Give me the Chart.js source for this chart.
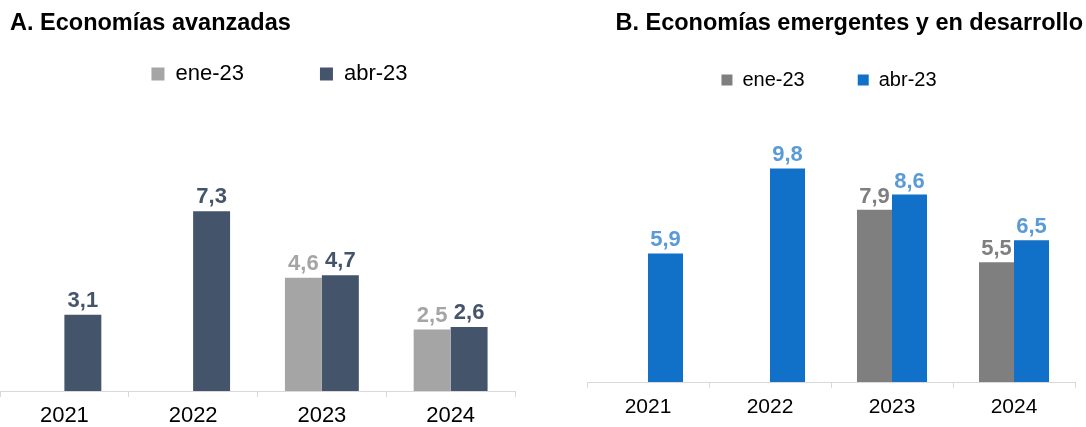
<!DOCTYPE html>
<html>
<head>
<meta charset="utf-8">
<script src="https://cdn.jsdelivr.net/npm/chart.js@4/dist/chart.umd.min.js"></script>
<style>
  html, body { margin: 0; padding: 0; background: #fff; overflow: hidden; }
  body { width: 1086px; height: 427px; position: relative; font-family: "Liberation Sans", Arial, sans-serif; }
  .title { position: absolute; font-weight: bold; font-size: 23.5px; line-height: 24px; color: #000; white-space: nowrap; z-index: 2; }
  #titleA { left: 10px; top: 10px; }
  #titleB { right: 3px; top: 10px; }
  .panel { position: absolute; top: 0; }
  #panelA { left: 0; width: 540px; height: 436px; }
  #panelB { left: 580px; width: 506px; height: 437px; }
</style>
</head>
<body>
<div class="title" id="titleA">A. Economías avanzadas</div>
<div class="title" id="titleB">B. Economías emergentes y en desarrollo</div>
<div class="panel" id="panelA"><canvas id="chartA"></canvas></div>
<div class="panel" id="panelB"><canvas id="chartB"></canvas></div>
<script>
  // Data
  const years = ["2021", "2022", "2023", "2024"];
  const seriesNames = ["ene-23", "abr-23"];
  const avanzadasEne = [null, null, 4.6, 2.5];
  const avanzadasAbr = [3.1, 7.3, 4.7, 2.6];
  const emergentesEne = [null, null, 7.9, 5.5];
  const emergentesAbr = [5.9, 9.8, 8.6, 6.5];

  const fontFamily = "'Liberation Sans', Arial, sans-serif";

  // value labels above the bars (decimal comma)
  const valueLabels = {
    id: "valueLabels",
    afterDatasetsDraw(chart) {
      const ctx = chart.ctx;
      const opts = chart.options.plugins.valueLabels;
      ctx.save();
      ctx.font = "bold " + opts.size + "px " + fontFamily;
      ctx.textAlign = "center";
      ctx.textBaseline = "bottom";
      chart.data.datasets.forEach((ds, i) => {
        const meta = chart.getDatasetMeta(i);
        meta.data.forEach((bar, j) => {
          const v = ds.data[j];
          if (v === null) return;
          ctx.fillStyle = ds.labelColor;
          ctx.fillText(v.toFixed(1).replace(".", ","), bar.x, bar.y - opts.gap);
        });
      });
      ctx.restore();
    },
  };

  // nudge the legend after layout
  const legendShift = {
    id: "legendShift",
    afterLayout(chart) {
      const o = chart.options.plugins.legendShift;
      chart.legend.left += o.dx || 0;
      chart.legend.right += o.dx || 0;
      chart.legend.top += o.dy || 0;
      chart.legend.bottom += o.dy || 0;
      chart.legend.adjustHitBoxes();
    },
  };

  function makeChart(id, ene, abr, cfg) {
    return new Chart(document.getElementById(id), {
      type: "bar",
      data: {
        labels: years,
        datasets: [
          {
            label: seriesNames[0],
            data: ene,
            backgroundColor: cfg.eneColor,
            labelColor: cfg.eneLabel,
            categoryPercentage: 0.574,
            barPercentage: 1,
          },
          {
            label: seriesNames[1],
            data: abr,
            backgroundColor: cfg.abrColor,
            labelColor: cfg.abrLabel,
            categoryPercentage: 0.574,
            barPercentage: 1,
          },
        ],
      },
      options: {
        responsive: true,
        maintainAspectRatio: false,
        animation: false,
        layout: { padding: cfg.padding },
        scales: {
          x: {
            grid: {
              display: true,
              drawOnChartArea: false,
              drawTicks: true,
              tickLength: 6,
              color: "#d9d9d9",
            },
            border: { display: true, color: "#d9d9d9" },
            ticks: {
              color: "#000",
              padding: cfg.tickPadding,
              font: { family: fontFamily, size: cfg.tickSize, lineHeight: 1 },
            },
          },
          y: {
            display: false,
            min: 0,
            max: cfg.max,
          },
        },
        plugins: {
          legend: {
            display: true,
            position: "top",
            labels: {
              boxWidth: cfg.box,
              boxHeight: cfg.box,
              padding: cfg.legendPadding,
              color: "#000",
              font: { family: fontFamily, size: cfg.legendSize },
            },
          },
          tooltip: { enabled: false },
          valueLabels: { size: cfg.labelSize, gap: cfg.labelGap },
          legendShift: { dx: cfg.legendDx, dy: cfg.legendDy },
        },
      },
      plugins: [valueLabels, legendShift],
    });
  }

  makeChart("chartA", avanzadasEne, avanzadasAbr, {
    eneColor: "#a5a5a5",
    abrColor: "#44546a",
    eneLabel: "#a5a5a5",
    abrLabel: "#44546a",
    padding: { left: 0, right: 25, top: 0, bottom: 1 },
    tickPadding: 8,
    tickSize: 22,
    max: 11.5,
    box: 13,
    legendPadding: 76,
    legendSize: 22,
    labelSize: 22,
    labelGap: 3,
    legendDx: 22,
    legendDy: -13,
  });

  makeChart("chartB", emergentesEne, emergentesAbr, {
    eneColor: "#7f7f7f",
    abrColor: "#1170c8",
    eneLabel: "#7f7f7f",
    abrLabel: "#5b9bd5",
    padding: { left: 7, right: 11, top: 17, bottom: 10 },
    tickPadding: 9,
    tickSize: 21,
    max: 12.94,
    box: 11,
    legendPadding: 53,
    legendSize: 20,
    labelSize: 22,
    labelGap: 2,
    legendDx: -2,
    legendDy: 0,
  });
</script>
</body>
</html>
